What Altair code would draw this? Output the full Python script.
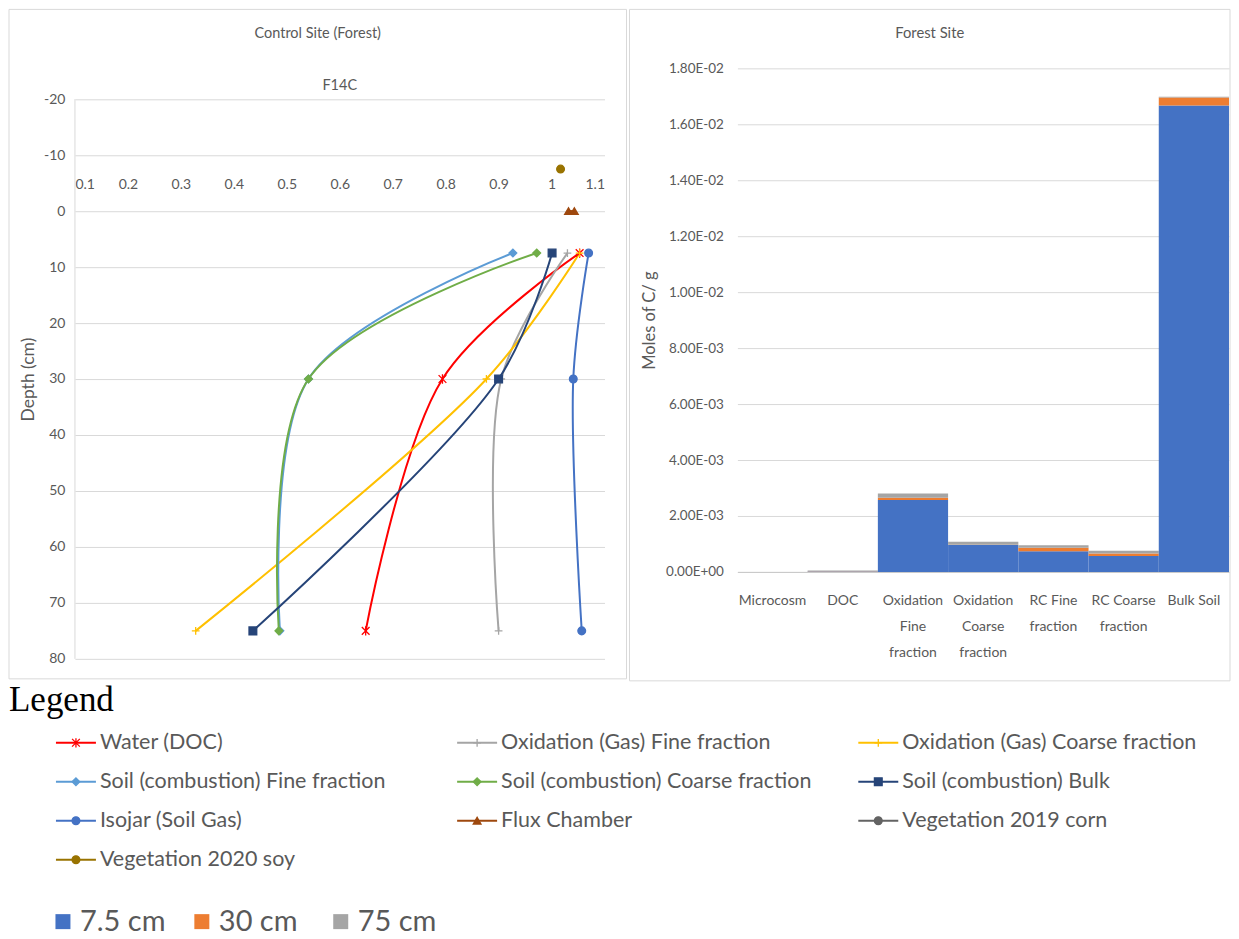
import altair as alt
import pandas as pd

# ---------------- Left panel data: F14C depth profiles ----------------
series_names = [
    "Water (DOC)",
    "Oxidation (Gas) Fine fraction",
    "Oxidation (Gas) Coarse fraction",
    "Soil (combustion) Fine fraction",
    "Soil (combustion) Coarse fraction",
    "Soil (combustion) Bulk",
    "Isojar (Soil Gas)",
    "Flux Chamber",
    "Vegetation 2019 corn",
    "Vegetation 2020 soy",
]
series_colors = ["#FF0000", "#A5A5A5", "#FFC000", "#5B9BD5", "#70AD47",
                 "#264478", "#4472C4", "#9E480E", "#636363", "#997300"]
ASTERISK = "M-1,-1L1,1M-1,1L1,-1M0,-1.2L0,1.2"
PLUS = "M-1,0L1,0M0,-1L0,1"
series_shapes = [ASTERISK, PLUS, PLUS, "diamond", "diamond", "square",
                 "circle", "triangle-up", "circle", "circle"]

water_depth = [7.5, 30, 75]
water_f14c = [1.053, 0.794, 0.649]
ox_fine_depth = [7.5, 30, 75]
ox_fine_f14c = [1.030, 0.905, 0.900]
ox_coarse_depth = [7.5, 30, 75]
ox_coarse_f14c = [1.053, 0.877, 0.328]
soil_fine_depth = [7.5, 30, 75]
soil_fine_f14c = [0.927, 0.541, 0.487]
soil_coarse_depth = [7.5, 30, 75]
soil_coarse_f14c = [0.972, 0.541, 0.485]
soil_bulk_depth = [7.5, 30, 75]
soil_bulk_f14c = [1.001, 0.900, 0.436]
isojar_depth = [7.5, 30, 75]
isojar_f14c = [1.070, 1.041, 1.057]
flux_depth = [0, 0]
flux_f14c = [1.032, 1.043]
veg2019_depth = []
veg2019_f14c = []
veg2020_depth = [-7.5]
veg2020_f14c = [1.017]

depth_ticks = [-20, -10, 0, 10, 20, 30, 40, 50, 60, 70, 80]
f14c_ticks = [0.1, 0.2, 0.3, 0.4, 0.5, 0.6, 0.7, 0.8, 0.9, 1.0, 1.1]

# ---------------- Right panel data: moles of C per gram ----------------
categories = ["Microcosm", "DOC", "Oxidation|Fine|fraction", "Oxidation|Coarse|fraction",
              "RC Fine|fraction", "RC  Coarse|fraction", "Bulk Soil"]
depth_labels = ["7.5 cm", "30 cm", "75 cm"]
depth_colors = ["#4472C4", "#ED7D31", "#A5A5A5"]
moles_7_5cm = [0.0, 0.000015, 0.00257, 0.000965, 0.00074, 0.00057, 0.01667]
moles_30cm = [0.0, 0.000005, 0.00008, 0.00001, 0.00012, 0.000085, 0.00029]
moles_75cm = [0.0, 0.00003, 0.00015, 0.000105, 0.000095, 0.000105, 0.00002]
moles_ticks = [0, 0.002, 0.004, 0.006, 0.008, 0.010, 0.012, 0.014, 0.016, 0.018]

# ---------------- build tables ----------------
profiles = [
    (water_depth, water_f14c), (ox_fine_depth, ox_fine_f14c), (ox_coarse_depth, ox_coarse_f14c),
    (soil_fine_depth, soil_fine_f14c), (soil_coarse_depth, soil_coarse_f14c),
    (soil_bulk_depth, soil_bulk_f14c), (isojar_depth, isojar_f14c), (flux_depth, flux_f14c),
    (veg2019_depth, veg2019_f14c), (veg2020_depth, veg2020_f14c),
]
rows = []
for name, (ds, vs) in zip(series_names, profiles):
    for d, v in zip(ds, vs):
        rows.append({"series": name, "depth": d, "f14c": v})
prof_df = pd.DataFrame(rows)

bar_rows = []
for i, cat in enumerate(categories):
    for k, vals in enumerate([moles_7_5cm, moles_30cm, moles_75cm]):
        bar_rows.append({"category": cat, "depth_label": depth_labels[k], "depth_idx": k, "moles": vals[i]})
bar_df = pd.DataFrame(bar_rows)

FONT = "Lato"
TXT = "#595959"
GRID = "#d9d9d9"

one = pd.DataFrame({"k": [0]})

# ---------------- left panel ----------------
x_left = alt.X("f14c:Q", scale=alt.Scale(domain=[0.1, 1.1], nice=False, zero=False),
               axis=alt.Axis(orient="top", offset=-143, values=f14c_ticks, format="~g",
                             domain=False, ticks=False, tickSize=0, grid=False, labelPadding=20,
                             labelFontSize=14, labelColor=TXT, labelFont=FONT, title=None))
y_left = alt.Y("depth:Q", scale=alt.Scale(domain=[-25.5, 80], reverse=True, nice=False, zero=False),
               axis=alt.Axis(values=depth_ticks, labelExpr="datum.value + ''", grid=True, gridColor=GRID,
                             domain=False, ticks=False,
                             labelPadding=10, labelFontSize=14, labelColor=TXT, labelFont=FONT,
                             title="Depth (cm)", titleFont=FONT, titleFontSize=17.5, titleColor=TXT,
                             titleFontWeight="normal", titlePadding=6, titleY=311))
stroke_scale = alt.Scale(domain=series_names, range=series_colors)
shape_scale = alt.Scale(domain=series_names, range=series_shapes)

frame_left = alt.Chart(one).mark_rect(fill="white", fillOpacity=0, stroke=GRID, strokeWidth=1).encode(
    x=alt.value(-66), x2=alt.value(552), y=alt.value(-59), y2=alt.value(611))

vline_df = pd.DataFrame({"f14c": [f14c_ticks[0]], "depth": [depth_ticks[0]], "depth2": [depth_ticks[-1]]})
vline = alt.Chart(vline_df).mark_rule(color=GRID, strokeWidth=1).encode(x=x_left, y=y_left, y2="depth2:Q")

lines = alt.Chart(prof_df).mark_line(interpolate="catmull-rom", strokeWidth=2).encode(
    x=x_left, y=y_left,
    stroke=alt.Stroke("series:N", scale=stroke_scale, legend=None),
    detail="series:N",
    order=alt.Order("depth:Q"))

points = alt.Chart(prof_df).mark_point(filled=True, size=60, strokeWidth=1.3, opacity=1).encode(
    x=x_left, y=y_left,
    shape=alt.Shape("series:N", scale=shape_scale, legend=None),
    fill=alt.Fill("series:N", scale=stroke_scale, legend=None),
    stroke=alt.Stroke("series:N", scale=stroke_scale, legend=None))

left_panel = alt.layer(frame_left, vline, lines, points).properties(
    width=530, height=591,
    title=alt.TitleParams("F14C", anchor="middle", frame="group", offset=-84.6, font=FONT,
                          fontSize=14.5, fontWeight="normal", color=TXT))
left_wrapped = alt.vconcat(left_panel, spacing=0, title=alt.TitleParams(
    "Control Site (Forest)", anchor="middle", frame="bounds", offset=-33.6, font=FONT,
    fontSize=14.5, fontWeight="normal", color=TXT))

# ---------------- right panel ----------------
label_expr_y = ("datum.value == 0 ? '0.00E+00' : "
                "replace(upper(format(datum.value, '.2e')), 'E-', 'E-0')")
x_right = alt.X("category:N", sort=categories, scale=alt.Scale(paddingInner=0, paddingOuter=0),
                axis=alt.Axis(labelExpr="split(datum.label, '|')", labelAngle=0, labelFontSize=14,
                              labelFont=FONT, labelColor=TXT, labelLineHeight=26, labelPadding=22,
                              ticks=False, tickSize=0, domainColor="#c8c8c8", grid=False, title=None))
y_right = alt.Y("moles:Q", stack="zero", scale=alt.Scale(domain=[0, 0.018], nice=False),
                axis=alt.Axis(values=moles_ticks, labelExpr=label_expr_y, grid=True, gridColor=GRID,
                              domain=False, ticks=False, labelPadding=14, labelFontSize=13.5,
                              labelFont=FONT, labelColor=TXT, title="Moles of C/ g", titleFont=FONT,
                              titleFontSize=16.5, titleFontWeight="normal", titleColor=TXT, titlePadding=8))
fill_scale = alt.Scale(domain=depth_labels, range=depth_colors)

frame_right = alt.Chart(one).mark_rect(fill="white", fillOpacity=0, stroke=GRID, strokeWidth=1).encode(
    x=alt.value(-108), x2=alt.value(493), y=alt.value(-59), y2=alt.value(613))

bars = alt.Chart(bar_df).mark_bar(strokeWidth=0).encode(
    x=x_right, y=y_right,
    fill=alt.Fill("depth_label:N", scale=fill_scale, legend=None),
    order=alt.Order("depth_idx:Q", sort="ascending"))

right_panel = alt.layer(frame_right, bars).properties(
    width=492, height=504,
    title=alt.TitleParams("Forest Site", anchor="middle", frame="bounds", offset=-31.6, font=FONT,
                          fontSize=14.8, fontWeight="normal", color=TXT))

top_row = alt.hconcat(left_wrapped, right_panel, spacing=1).resolve_scale(
    fill="independent", stroke="independent", shape="independent")

# ---------------- series legend ----------------
leg_df = pd.DataFrame({"series": series_names,
                       "col": [i % 3 for i in range(len(series_names))],
                       "row": [i // 3 for i in range(len(series_names))]})
lx = alt.X("col:Q", scale=alt.Scale(domain=[0, 2], nice=False, zero=False), axis=None)
ly = alt.Y("row:Q", scale=alt.Scale(domain=[0, 3], reverse=True, nice=False, zero=False), axis=None)

leg_line = alt.Chart(leg_df).mark_rule(strokeWidth=2, xOffset=-19, x2Offset=21).encode(
    x=lx, x2="col:Q", y=ly, stroke=alt.Stroke("series:N", scale=stroke_scale, legend=None))
leg_pt = alt.Chart(leg_df).mark_point(filled=True, size=60, strokeWidth=1.3, opacity=1, xOffset=1).encode(
    x=lx, y=ly,
    shape=alt.Shape("series:N", scale=shape_scale, legend=None),
    fill=alt.Fill("series:N", scale=stroke_scale, legend=None),
    stroke=alt.Stroke("series:N", scale=stroke_scale, legend=None))
leg_txt = alt.Chart(leg_df).mark_text(align="left", baseline="middle", dx=25, fontSize=21.5,
                                      font=FONT, color=TXT).encode(x=lx, y=ly, text="series:N")

series_legend = alt.layer(leg_line, leg_pt, leg_txt).properties(
    width=803, height=117,
    title=alt.TitleParams("Legend", anchor="start", frame="group", dx=-66, offset=14,
                          font="Liberation Serif", fontSize=35, fontWeight="normal", color="black"))

# ---------------- bar legend ----------------
bar_leg_df = pd.DataFrame({"label": depth_labels, "idx": list(range(len(depth_labels)))})
bx = alt.X("idx:Q", scale=alt.Scale(domain=[0, 2], nice=False, zero=False), axis=None)
bar_sq = alt.Chart(bar_leg_df).mark_point(shape="square", filled=True, size=225, opacity=1, xOffset=-12).encode(
    x=bx, fill=alt.Fill("label:N", scale=fill_scale, legend=None))
bar_txt = alt.Chart(bar_leg_df).mark_text(align="left", baseline="middle", dx=5, fontSize=29,
                                          font=FONT, color=TXT).encode(x=bx, text="label:N")
bar_legend = alt.layer(bar_sq, bar_txt).properties(width=278, height=20)

legend_block = alt.vconcat(series_legend, bar_legend, spacing=36).resolve_scale(
    fill="independent", stroke="independent", shape="independent")

chart = alt.vconcat(top_row, legend_block, spacing=0).resolve_scale(
    fill="independent", stroke="independent", shape="independent").properties(
    padding=0, background="white").configure_view(stroke="transparent")

chart.save("out.html", embed_options={"renderer": "svg", "actions": False})
